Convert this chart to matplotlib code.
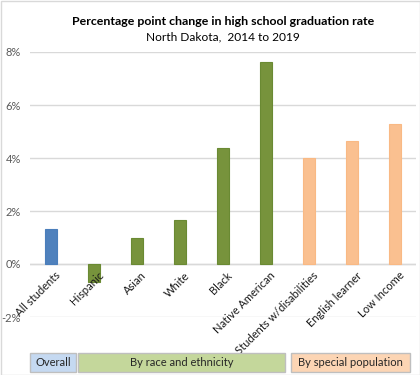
import matplotlib
matplotlib.use("Agg")
import matplotlib.pyplot as plt
from matplotlib.patches import Rectangle

categories = ["All students", "Hispanic", "Asian", "White", "Black", "Native American",
              "Students w/disabilities", "English learner", "Low Income"]
values = [1.32, -0.68, 0.98, 1.66, 4.38, 7.62, 4.0, 4.64, 5.28]
groups = ["overall", "race", "race", "race", "race", "race", "special", "special", "special"]
yticks = [-2, 0, 2, 4, 6, 8]
group_labels = ["Overall", "By race and ethnicity", "By special population"]

bar_colors = {"overall": "#4F81BD", "race": "#77933C", "special": "#FAC090"}
edge_colors = {"overall": "#4A7EBB", "race": "#6A8A33", "special": "#F9B984"}
box_colors = ["#C5D9F1", "#C4D79B", "#FCD5B4"]

plt.rcParams['font.family'] = ['Lato', 'DejaVu Sans']
fig = plt.figure(figsize=(4.2, 3.75), dpi=100)
W, H = 420, 375
ax = fig.add_axes([29.5 / W, 1 - 317 / H, (416.5 - 29.5) / W, (317 - 52) / H])

x = list(range(len(categories)))
ax.bar(x, values, width=0.3,
       color=[bar_colors[g] for g in groups],
       edgecolor=[edge_colors[g] for g in groups], linewidth=0.8, zorder=3)
ax.set_xlim(-0.5, len(categories) - 0.5)
ax.set_ylim(-2, 8)
ax.set_yticks(yticks)
ax.set_yticklabels([f"{t}%" for t in yticks], color="#595959", fontsize=8)
ax.yaxis.grid(True, color="#D9D9D9", linewidth=1)
ax.axhline(0, color="#D9D9D9", linewidth=1, zorder=2)
ax.set_axisbelow(True)
for s in ax.spines.values():
    s.set_visible(False)
ax.tick_params(axis="y", length=0, pad=6)
ax.tick_params(axis="x", length=0)
ax.set_xticks([])
for xi, lab in zip(x, categories):
    ax.text(xi + 0.09, -0.22, lab, rotation=45, ha="right", va="top",
            rotation_mode="anchor", fontsize=8, color="#1a1a1a", zorder=5,
            transform=ax.transData)

fig.text(223 / W, 1 - 21.5 / H, "Percentage point change in high school graduation rate",
         ha="center", va="center", fontsize=8.9, fontweight="bold", color="#000000")
fig.text(223 / W, 1 - 37 / H, "North Dakota,  2014 to 2019",
         ha="center", va="center", fontsize=8.6, color="#000000")

boxes = [(30, 76), (78, 285), (291, 410)]
for (x0, x1), col, lab in zip(boxes, box_colors, group_labels):
    fig.patches.append(Rectangle((x0 / W, 1 - 372 / H), (x1 - x0) / W, 19 / H,
                                 transform=fig.transFigure, facecolor=col,
                                 edgecolor="#BFBFBF", linewidth=1))
    fig.text((x0 + x1) / 2 / W, 1 - 362.5 / H, lab, ha="center", va="center",
             fontsize=8, color="#262626")

fig.patches.append(Rectangle((0.5 / W, 0.5 / H), 419 / W, 374 / H, transform=fig.transFigure,
                             facecolor="none", edgecolor="#D9D9D9", linewidth=1))
fig.savefig("out.png", dpi=100)
